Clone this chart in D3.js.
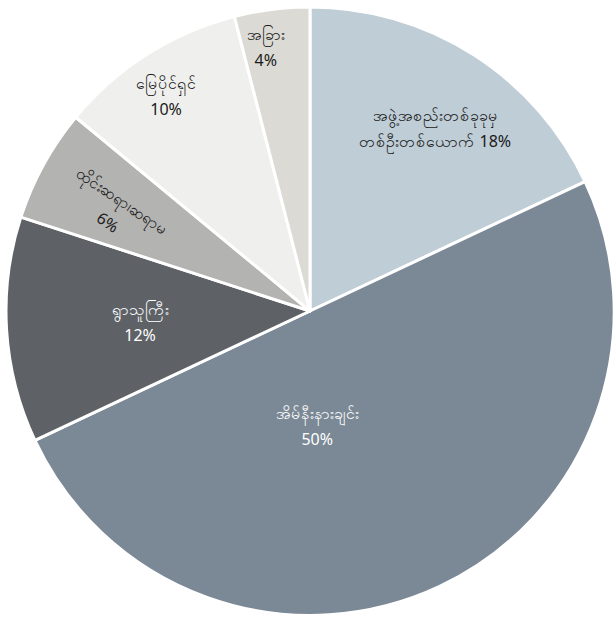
<!DOCTYPE html>
<html>
<head>
<meta charset="utf-8">
<script src="https://cdn.jsdelivr.net/npm/d3@7"></script>
<style>
  html, body { margin: 0; padding: 0; background: #ffffff; }
  svg { display: block; }
  text { font-family: "Noto Sans", "Open Sans", "DejaVu Sans", sans-serif; font-size: 16px; }
</style>
</head>
<body>
<svg id="chart" width="616" height="619"></svg>
<script>
// Who people turn to — share of responses by category
const labelsLine1 = ["အဖွဲ့အစည်းတစ်ခုခုမှ", "အိမ်နီးနားချင်း", "ရွာသူကြီး", "ထိုင်းဆရာ၊ဆရာမ", "မြေပိုင်ရှင်", "အခြား"];
const labelsLine2 = ["တစ်ဦးတစ်ယောက်", "", "", "", "", ""];
const shares = [18, 50, 12, 6, 10, 4];

const sliceColors = ["#bfcdd6", "#7b8895", "#5e6267", "#b3b3b2", "#efefed", "#dcdad5"];
const textColors  = ["#1a1a1a", "#ffffff", "#ffffff", "#1a1a1a", "#1a1a1a", "#1a1a1a"];

// label placement inside each slice: fraction of the slice's sweep and of the radius
const labelAngleFrac  = [0.53, 0.62, 0.50, 0.42, 0.46, 0.34];
const labelRadiusFrac = [0.73, 0.38, 0.56, 0.72, 0.85, 0.88];
const labelRotation   = [0, 0, 0, 34, 0, 0];

const svg = d3.select("#chart");
const cx = 310, cy = 311, radius = 304;

const data = shares.map((v, i) => ({ i, value: v }));
const pie = d3.pie().value(d => d.value).sort(null);
const arcs = pie(data);
const arc = d3.arc().innerRadius(0).outerRadius(radius);

const g = svg.append("g").attr("transform", `translate(${cx},${cy})`);

g.selectAll("path.slice")
  .data(arcs)
  .join("path")
  .attr("class", "slice")
  .attr("d", arc)
  .attr("fill", d => sliceColors[d.data.i])
  .attr("stroke", "#ffffff")
  .attr("stroke-width", 3)
  .attr("stroke-linejoin", "round");

const lineGap = 26;

const labels = g.selectAll("g.label")
  .data(arcs)
  .join("g")
  .attr("class", "label")
  .attr("transform", d => {
    const i = d.data.i;
    const a = d.startAngle + (d.endAngle - d.startAngle) * labelAngleFrac[i];
    const r = radius * labelRadiusFrac[i];
    const x = r * Math.sin(a), y = -r * Math.cos(a);
    return `translate(${x},${y}) rotate(${labelRotation[i]})`;
  });

labels.each(function(d) {
  const i = d.data.i;
  const sel = d3.select(this);
  const pct = d.data.value + "%";
  const lines = labelsLine2[i]
    ? [labelsLine1[i], labelsLine2[i] + " " + pct]
    : [labelsLine1[i], pct];
  lines.forEach((t, k) => {
    sel.append("text")
      .attr("text-anchor", "middle")
      .attr("dominant-baseline", "central")
      .attr("y", (k - (lines.length - 1) / 2) * lineGap)
      .attr("fill", textColors[i])
      .text(t);
  });
});
</script>
</body>
</html>
